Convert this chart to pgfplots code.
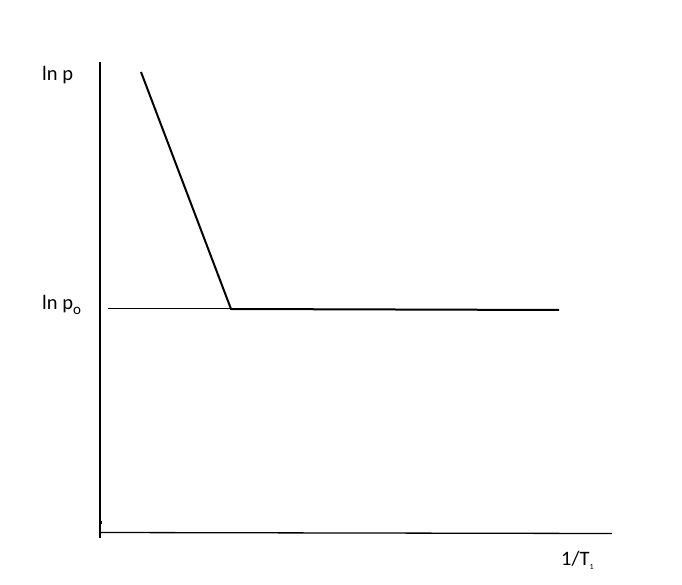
\documentclass[border=0pt]{standalone}
\usepackage{fontspec}
\setmainfont{Carlito}
\usepackage{pgfplots}
\pgfplotsset{compat=1.18}
\begin{document}
\begin{tikzpicture}[x=1pt,y=1pt]
\begin{axis}[
  scale only axis, width=682pt, height=584pt,
  xmin=0, xmax=682, ymin=0, ymax=584,
  hide axis, clip=false,
]
\path (rel axis cs:0,0) rectangle (rel axis cs:1,1);
% axes
\addplot[black, line width=1.3pt] coordinates {(100,522) (100,46)};
\addplot[black, line width=1.3pt] coordinates {(100,51.5) (612,50.5)};
\addplot[black, line width=1.2pt] coordinates {(101,60) (101,63)};
% reference line at ln p0
\addplot[black, line width=1pt] coordinates {(108,275) (231,275)};
% curve
\addplot[black, line width=2pt, line join=miter] coordinates {(141,512) (231,275) (559,274)};
% labels
\node[anchor=west, inner sep=0pt, font=\fontsize{20.5}{24}\selectfont] at (axis cs:42,509) {ln p};
\node[anchor=west, inner sep=0pt, font=\fontsize{20.5}{24}\selectfont] at (axis cs:42,279) {ln p\raisebox{-5pt}{\fontsize{15}{18}\selectfont o}};
\node[anchor=west, inner sep=0pt, font=\fontsize{20.5}{24}\selectfont] at (axis cs:561,24) {1/T\raisebox{-4pt}{\fontsize{8}{9}\selectfont 1}};
\end{axis}
\end{tikzpicture}
\end{document}
